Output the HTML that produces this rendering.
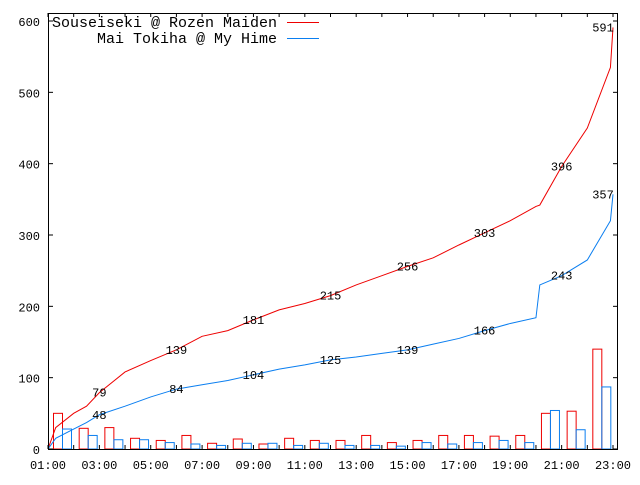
<!DOCTYPE html>
<html><head><meta charset="utf-8"><style>
body{margin:0;background:#fff}
svg text{font-family:"Liberation Mono","Noto Sans CJK JP",monospace;fill:#000}
</style></head><body>
<svg width="640" height="480" id="c">
<g id="bars"></g>
<g id="lines"></g>
<g id="axes"></g>
<g>
<text x="52" y="27" font-size="15">Souseiseki @ Rozen Maiden</text>
<line x1="287" y1="22.5" x2="319" y2="22.5" stroke="#e00" stroke-width="1"/>
<text x="277" y="43" font-size="15" text-anchor="end">Mai Tokiha @ My Hime</text>
<line x1="287" y1="38.5" x2="319" y2="38.5" stroke="#0a7ef0" stroke-width="1"/>
</g>
</svg>
<script>
const redBars=[50,29,30,15,12,19,8,14,7,15,12,12,19,9,12,19,19,18,19,50,53,140];
const blueBars=[28,19,13,13,9,7,5,8,8,5,8,5,5,4,9,7,9,12,9,54,27,87];
const lineTimes=[0,0.3,1,1.5,2,3,4,5,6,7,8,9,10,11,12,13,14,15,16,17,18,19,19.15,20,21,21.9,22];
const redCum=[0,30,50,60,79,108,124,139,158,166,181,195,204,215,230,243,256,268,286,303,320,340,342,396,450,535,591];
const blueCum=[0,15,28,37,48,60,73,84,90,96,104,112,118,125,129,134,139,147,155,166,176,184,230,243,265,320,357];
const labelIdx=[4,7,10,13,16,19,23,26];
const yTicks=[0,100,200,300,400,500,600];
const xTickLabels=["01:00","03:00","05:00","07:00","09:00","11:00","13:00","15:00","17:00","19:00","21:00","23:00"];
const NS="http://www.w3.org/2000/svg";
const L=48,R=618,T=13,B=449;
const x=h=>L+h*(565/22);
const y=v=>B-v*(428/600);
function mk(t,a,p){const e=document.createElementNS(NS,t);for(const k in a)e.setAttribute(k,a[k]);p.appendChild(e);return e;}
const bars=document.getElementById('bars'),lines=document.getElementById('lines'),axes=document.getElementById('axes');
redBars.forEach((v,i)=>{const e=mk('rect',{x:x(i)+5.5,y:y(v),width:9,height:B-y(v),fill:'none',stroke:'#e00','stroke-width':1},bars);

});
blueBars.forEach((v,i)=>{const e=mk('rect',{x:x(i)+14.5,y:y(v),width:9,height:B-y(v),fill:'none',stroke:'#0a7ef0','stroke-width':1},bars);

});
function line(vals,col,name){let d='';vals.forEach((v,i)=>{d+=(i?'L':'M')+x(lineTimes[i])+','+y(v);});
const e=mk('path',{d:d,fill:'none',stroke:col,'stroke-width':1},lines);


labelIdx.forEach(i=>{const t=mk('text',{x:x(lineTimes[i])-(i==26?10:0),y:y(vals[i])+4,'font-size':12,'text-anchor':'middle'},lines);t.textContent=vals[i];

});}
line(redCum,'#e00','souseiseki-line');
line(blueCum,'#0a7ef0','mai-line');
mk('rect',{x:L+0.5,y:T+0.5,width:R-L-1,height:B-T,fill:'none',stroke:'#000','stroke-width':1},axes);
yTicks.forEach(v=>{mk('line',{x1:L,x2:L+5,y1:y(v),y2:y(v),stroke:'#000'},axes);mk('line',{x1:R-5,x2:R,y1:y(v),y2:y(v),stroke:'#000'},axes);
const t=mk('text',{x:40,y:y(v)+5,'font-size':12,'text-anchor':'end'},axes);t.textContent=v;

});
for(let h=0;h<=22;h++){mk('line',{x1:x(h),x2:x(h),y1:B,y2:B-4,stroke:'#000'},axes);mk('line',{x1:x(h),x2:x(h),y1:T,y2:T+4,stroke:'#000'},axes);}
xTickLabels.forEach((s,i)=>{const t=mk('text',{x:x(i*2),y:469,'font-size':12,'text-anchor':'middle'},axes);t.textContent=s;

});
</script>
</body></html>
